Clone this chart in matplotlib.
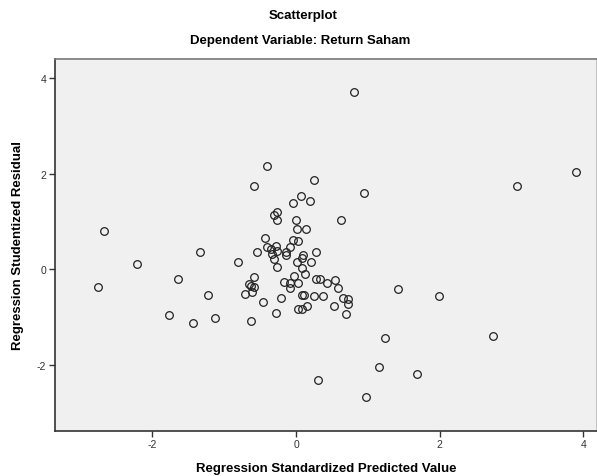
import matplotlib
matplotlib.use("Agg")
import matplotlib.pyplot as plt

plt.rcParams['font.family'] = ['Liberation Sans', 'DejaVu Sans']
plt.rcParams['axes.unicode_minus'] = False

# Regression Standardized Predicted Value
pred = [0.81, -0.41, -0.59, 0.25, 0.94, 3.90, 3.07, 0.07, -0.04, 0.19,
        -0.27, -0.31, -0.27, 0.00, 0.62, -2.68, 0.02, 0.14, -0.43, -0.04,
        0.03, -0.40, -0.28, -0.09, -0.35, -0.27, -0.33, -0.14, -0.14, -0.54,
        -1.34, 0.28, 0.10, 0.09, -0.31, -0.81, -2.22, 0.01, 0.21, -0.27,
        0.08, 0.12, -0.58, -1.65, -0.03, 0.28, 0.34, 0.54, -0.17, -0.09,
        0.03, 0.43, -0.66, -0.63, -0.59, -0.08, -2.76, 0.59, 1.42, -0.61,
        -0.71, -1.23, 0.08, 0.11, 0.25, 0.37, -0.21, 0.65, 0.72, 0.72,
        1.99, -0.46, 0.53, 0.15, 0.03, 0.08, -1.77, -0.28, 0.69, -1.13,
        -1.44, -0.62, 2.74, 1.24, 1.16, 1.68, 0.31, 0.98]

# Regression Studentized Residual
resid = [3.70, 2.15, 1.74, 1.86, 1.60, 2.04, 1.74, 1.54, 1.39, 1.42,
         1.20, 1.13, 1.02, 1.03, 1.02, 0.79, 0.84, 0.84, 0.66, 0.61,
         0.59, 0.47, 0.49, 0.47, 0.42, 0.37, 0.32, 0.36, 0.29, 0.36,
         0.35, 0.35, 0.29, 0.24, 0.21, 0.14, 0.10, 0.14, 0.14, 0.04,
         0.03, -0.10, -0.16, -0.21, -0.15, -0.20, -0.20, -0.22, -0.26, -0.29,
         -0.28, -0.29, -0.32, -0.36, -0.38, -0.39, -0.38, -0.40, -0.41, -0.47,
         -0.52, -0.54, -0.54, -0.54, -0.56, -0.57, -0.61, -0.61, -0.63, -0.73,
         -0.57, -0.69, -0.77, -0.78, -0.84, -0.84, -0.95, -0.92, -0.94, -1.03,
         -1.12, -1.09, -1.39, -1.45, -2.05, -2.20, -2.33, -2.68]

xticks = [-2, 0, 2, 4]
yticks = [-2, 0, 2, 4]

fig = plt.figure(figsize=(5.97, 4.77), dpi=100)
ax = fig.add_axes([0.0916, 0.095, 0.9084, 0.7786])
ax.set_facecolor('#f0f0f0')

ax.plot(pred, resid, linestyle='none', marker='o', markersize=5.5,
        markerfacecolor='none', markeredgecolor='#222222', markeredgewidth=0.9)

ax.set_xlim(-3.36, 4.19)
ax.set_ylim(-3.38, 4.39)
ax.set_xticks(xticks)
ax.set_yticks(yticks)
ax.tick_params(direction='out', length=4, width=1, labelsize=7.5, colors='#333333', pad=2)

ax.spines['left'].set_color('#333333')
ax.spines['bottom'].set_color('#333333')
ax.spines['top'].set_color('#777777')
ax.spines['right'].set_color('#bbbbbb')
for s in ax.spines.values():
    s.set_linewidth(1.2)

ax.set_xlabel('Regression Standardized Predicted Value', fontsize=9.5,
              fontweight='bold', labelpad=9)
ax.set_ylabel('Regression Studentized Residual', fontsize=9.5,
              fontweight='bold', labelpad=9)

fig.text(0.508, 0.966, 'Scatterplot', ha='center', va='center',
         fontsize=9.5, fontweight='bold')
fig.text(0.503, 0.914, 'Dependent Variable: Return Saham', ha='center', va='center',
         fontsize=9.5, fontweight='bold')

fig.savefig('out.png', dpi=100)
